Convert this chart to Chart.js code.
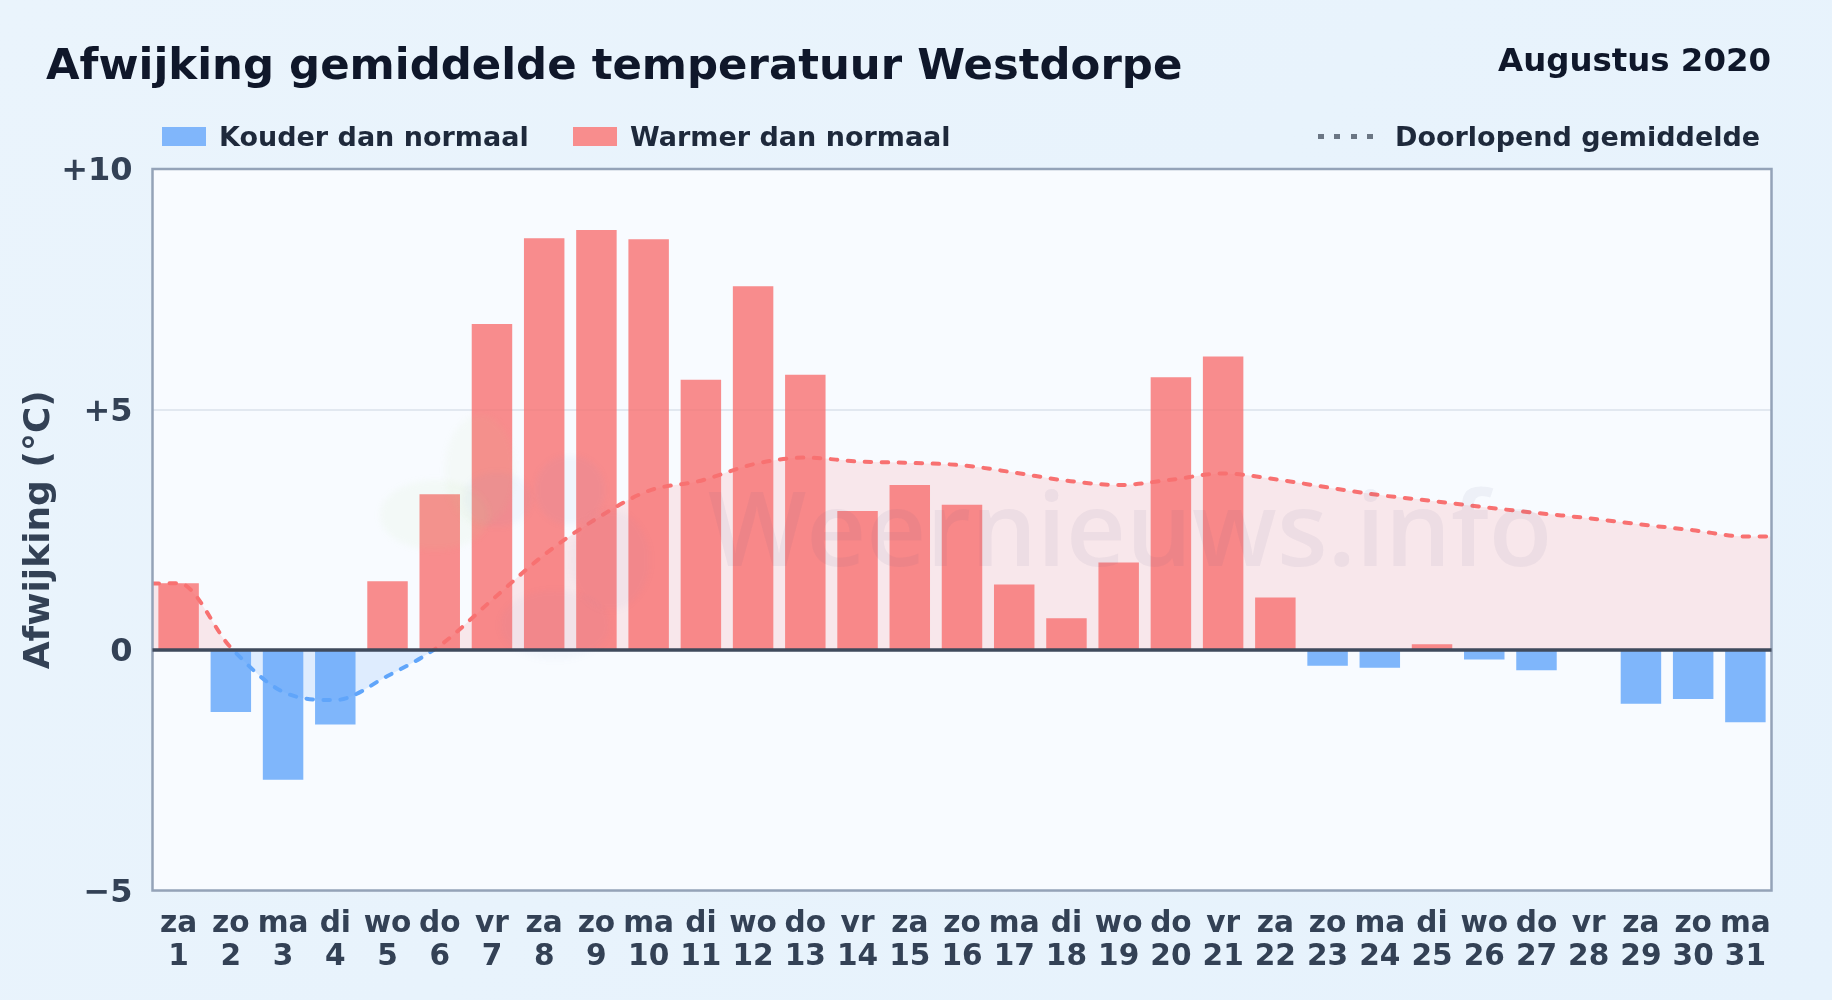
<!DOCTYPE html>
<html lang="nl">
<head>
<meta charset="utf-8">
<title>Afwijking gemiddelde temperatuur Westdorpe</title>
<script src="https://cdn.jsdelivr.net/npm/chart.js@4"></script>
<style>
    html, body { margin: 0; padding: 0; }
    body {
        width: 1832px; height: 1000px; position: relative; overflow: hidden;
        background: linear-gradient(135deg, #eaf4fc, #e6f2fc);
        font-family: "DejaVu Sans", sans-serif; font-weight: bold;
    }
    canvas { position: absolute; left: 0; top: 0; }
    .txt { position: absolute; white-space: nowrap; line-height: 1; }
    #title { left: 46px; top: 43px; font-size: 43.4px; color: #0f172a; }
    #period { right: 61px; top: 44px; font-size: 32.4px; color: #0f172a; }
    .legendText { top: 123px; font-size: 27px; color: #1e293b; }
    .swatch { position: absolute; top: 127px; width: 44px; height: 19px; }
    #meanKey {
        position: absolute; left: 1318px; top: 134px; width: 56px; height: 5px;
        background: repeating-linear-gradient(90deg, #6b7684 0 6px, transparent 6px 16.4px);
    }
    #mark { left: 708px; top: 474px; font-family: "Open Sans", sans-serif; font-weight: 600;
        font-size: 104px; color: rgba(90, 85, 140, 0.065); pointer-events: none; }
    .blob { position: absolute; border-radius: 50%; filter: blur(3px); pointer-events: none; }
</style>
</head>
<body>
<canvas id="myChart" width="1832" height="1000"></canvas>

<div class="blob" style="left:380px;top:480px;width:110px;height:70px;background:rgba(190,220,140,.07)"></div>
<div class="blob" style="left:445px;top:415px;width:70px;height:110px;background:rgba(190,220,140,.06)"></div>
<div class="blob" style="left:462px;top:472px;width:70px;height:55px;background:rgba(90,140,210,.05)"></div>
<div class="blob" style="left:535px;top:455px;width:70px;height:70px;background:rgba(90,140,210,.05)"></div>
<div class="blob" style="left:500px;top:590px;width:110px;height:70px;background:rgba(90,140,210,.04)"></div>
<div class="blob" style="left:570px;top:510px;width:80px;height:100px;background:rgba(90,140,210,.04)"></div>

<div id="mark" class="txt">Weernieuws.info</div>
<div id="title" class="txt">Afwijking gemiddelde temperatuur Westdorpe</div>
<div id="period" class="txt">Augustus 2020</div>
<div class="swatch" style="left:162px;background:#80b6fb"></div>
<div class="txt legendText" style="left:219px">Kouder dan normaal</div>
<div class="swatch" style="left:573px;background:#f88d8d"></div>
<div class="txt legendText" style="left:630px">Warmer dan normaal</div>
<div id="meanKey"></div>
<div class="txt legendText" style="left:1395px">Doorlopend gemiddelde</div>

<script>
const weekdays = ['za', 'zo', 'ma', 'di', 'wo', 'do', 'vr', 'za', 'zo', 'ma', 'di', 'wo', 'do', 'vr', 'za', 'zo',
    'ma', 'di', 'wo', 'do', 'vr', 'za', 'zo', 'ma', 'di', 'wo', 'do', 'vr', 'za', 'zo', 'ma'];
const days = [1, 2, 3, 4, 5, 6, 7, 8, 9, 10, 11, 12, 13, 14, 15, 16,
    17, 18, 19, 20, 21, 22, 23, 24, 25, 26, 27, 28, 29, 30, 31];
const deviation = [1.39, -1.29, -2.70, -1.55, 1.43, 3.24, 6.78, 8.56, 8.73, 8.54, 5.62, 7.56, 5.72, 2.89, 3.43, 3.02,
    1.36, 0.66, 1.82, 5.67, 6.10, 1.09, -0.33, -0.37, 0.12, -0.20, -0.42, 0, -1.12, -1.02, -1.50];

// the running mean starts and ends on the plot edges, half a day past the first and last bar
const meanDays = [0.5, 1, 2, 3, 4, 5, 6, 7, 8, 9, 10, 11, 12, 13, 14, 15, 16,
    17, 18, 19, 20, 21, 22, 23, 24, 25, 26, 27, 28, 29, 30, 31, 31.5];
const meanValues = [1.38, 1.39, 0.05, -0.87, -1.04, -0.54, 0.09, 1.04, 1.98, 2.73, 3.31, 3.52, 3.86, 4.00, 3.92, 3.89, 3.84,
    3.69, 3.52, 3.43, 3.54, 3.67, 3.55, 3.38, 3.22, 3.10, 2.97, 2.85, 2.74, 2.61, 2.49, 2.36, 2.36];

const yTicks = [-5, 0, 5, 10];
const yTickLabels = ['\u22125', '0', '+5', '+10'];

const blue = '#60a5fa';
const red = '#f87171';

// line is blue under zero and red above it
meanLineColor = (context) => {
    let chart = context.chart;
    if (!chart.chartArea) {
        return red;
    }
    let y = chart.scales.y;
    let top = y.getPixelForValue(10);
    let bottom = y.getPixelForValue(-5);
    let zero = (y.getPixelForValue(0) - top) / (bottom - top);
    let gradient = chart.ctx.createLinearGradient(0, top, 0, bottom);
    gradient.addColorStop(0, red);
    gradient.addColorStop(zero, red);
    gradient.addColorStop(zero, blue);
    gradient.addColorStop(1, blue);
    return gradient;
};

const plotFrame = {
    id: 'plotFrame',
    beforeDraw(chart) {
        let { ctx, chartArea: a } = chart;
        ctx.save();
        ctx.fillStyle = '#f8fbff';
        ctx.fillRect(a.left, a.top, a.width, a.height);
        ctx.restore();
    },
    afterDraw(chart) {
        let { ctx, chartArea: a, scales } = chart;
        let zero = scales.y.getPixelForValue(0);
        ctx.save();
        ctx.strokeStyle = '#94a3b8';
        ctx.lineWidth = 2.5;
        ctx.strokeRect(a.left, a.top, a.width, a.height);
        ctx.strokeStyle = '#3f4a5c';
        ctx.lineWidth = 3.5;
        ctx.beginPath();
        ctx.moveTo(a.left, zero);
        ctx.lineTo(a.right, zero);
        ctx.stroke();
        ctx.restore();
    }
};

let ctx = document.getElementById('myChart').getContext('2d');
let myChart = new Chart(ctx, {
    type: 'bar',
    data: {
        datasets: [{
            type: 'line',
            label: 'Doorlopend gemiddelde',
            data: meanDays.map((d, i) => ({ x: d, y: meanValues[i] })),
            borderColor: meanLineColor,
            borderWidth: 4,
            borderDash: [6.5, 10.5],
            borderCapStyle: 'round',
            cubicInterpolationMode: 'monotone',
            pointRadius: 0,
            fill: {
                target: { value: 0 },
                above: 'rgba(248, 113, 113, 0.14)',
                below: 'rgba(96, 165, 250, 0.17)'
            },
            order: 0
        }, {
            label: 'Afwijking',
            data: days.map((d, i) => ({ x: d, y: deviation[i] })),
            backgroundColor: deviation.map(v => v < 0 ? 'rgba(96, 165, 250, 0.8)' : 'rgba(248, 113, 113, 0.8)'),
            categoryPercentage: 1,
            barPercentage: 0.775,
            order: 1
        }]
    },
    options: {
        responsive: false,
        animation: false,
        devicePixelRatio: 1,
        layout: { padding: { left: 0, right: 60.5, top: 169, bottom: 0 } },
        plugins: {
            legend: { display: false },
            tooltip: { enabled: false },
            filler: { drawTime: 'beforeDatasetsDraw' }
        },
        scales: {
            x: {
                type: 'linear',
                offset: false,
                min: 0.5,
                max: 31.5,
                grid: { display: false },
                border: { display: false },
                afterBuildTicks: (axis) => { axis.ticks = days.map(d => ({ value: d })); },
                afterFit: (axis) => { axis.height = 109.5; },
                ticks: {
                    autoSkip: false,
                    maxRotation: 0,
                    minRotation: 0,
                    padding: 9,
                    color: '#334155',
                    font: { family: 'DejaVu Sans', size: 29.6, weight: 'bold', lineHeight: 1.12 },
                    callback: (value) => [weekdays[days.indexOf(value)], String(value)]
                }
            },
            y: {
                min: -5,
                max: 10,
                grid: { color: '#e2e8f0', lineWidth: 2, drawTicks: false },
                border: { display: false },
                afterBuildTicks: (axis) => { axis.ticks = yTicks.map(v => ({ value: v })); },
                afterFit: (axis) => { axis.width = 152.5; },
                title: {
                    display: true,
                    text: 'Afwijking (\u00b0C)',
                    color: '#334155',
                    font: { family: 'DejaVu Sans', size: 36, weight: 'bold' },
                    padding: { top: 18, bottom: 0 }
                },
                ticks: {
                    padding: 20,
                    labelOffset: 3,
                    color: '#334155',
                    font: { family: 'DejaVu Sans', size: 32, weight: 'bold' },
                    callback: (value) => yTickLabels[yTicks.indexOf(value)]
                }
            }
        }
    },
    plugins: [plotFrame]
});
</script>
</body>
</html>
